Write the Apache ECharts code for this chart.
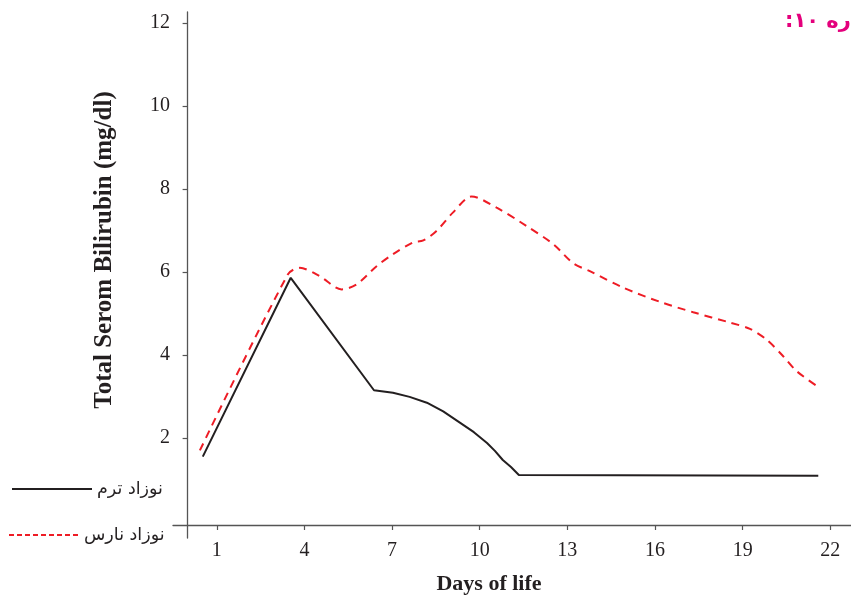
<!DOCTYPE html>
<html>
<head>
<meta charset="utf-8">
<script src="https://cdn.jsdelivr.net/npm/echarts@6/dist/echarts.min.js"></script>
<style>html,body{margin:0;padding:0;background:#fff}#c{width:851px;height:595px}</style>
</head>
<body>
<div id="c"></div>
<script>
// ---- data ----
const seriesNames = ['نوزاد ترم', 'نوزاد نارس'];
const termDays =   [0.52, 3.53, 6.38, 7.03, 7.6, 8.19, 8.75, 9.32, 9.8, 10.25, 10.52, 10.79, 11.07, 11.34, 21.59];
const termValues = [1.55, 5.86, 3.15, 3.09, 2.99, 2.85, 2.64, 2.37, 2.14, 1.88, 1.69, 1.47, 1.30, 1.11, 1.09];
const pretermDays =   [0.42, 3.43, 3.84, 4.52, 5.27, 5.78, 6.47, 7.03, 7.71, 8.07, 8.52, 9.08, 9.72, 10.58, 11.6, 12.52, 13.2, 13.77, 14.92, 16.17, 17.31, 18.57, 19.25, 19.82, 20.39, 20.85, 21.65];
const pretermValues = [1.70, 5.94, 6.10, 5.90, 5.58, 5.70, 6.14, 6.43, 6.71, 6.76, 6.99, 7.43, 7.82, 7.55, 7.11, 6.67, 6.21, 6.02, 5.62, 5.28, 5.03, 4.78, 4.63, 4.37, 3.97, 3.61, 3.20];
const xTicks = [1, 4, 7, 10, 13, 16, 19, 22];
const yTicks = [2, 4, 6, 8, 10, 12];
const xTitle = 'Days of life';
const yTitle = 'Total Serom Bilirubin (mg/dl)';
const titleText = 'شماره ۱۰:';

const pairs = (xs, ys) => xs.map((x, i) => [x, ys[i]]);
const axisColor = '#555';
const textColor = '#231f20';
const serif = 'Liberation Serif';

const chart = echarts.init(document.getElementById('c'), null, {renderer: 'canvas'});
chart.setOption({
  animation: false,
  backgroundColor: '#fff',
  title: {
    text: titleText + '\u200F',
    left: 780, top: 6,
    textStyle: {color: '#e4007c', fontSize: 21, fontWeight: 'bold', fontFamily: 'DejaVu Sans'}
  },
  legend: [
    {data: [seriesNames[0]], left: 11, top: 480, padding: 0, itemWidth: 80, itemHeight: 14,
     itemStyle: {opacity: 0},
     textStyle: {fontSize: 17.5, color: textColor, fontFamily: 'DejaVu Sans'}},
    {data: [seriesNames[1]], left: 8, top: 526, padding: 0, itemWidth: 70, itemHeight: 14,
     itemStyle: {opacity: 0}, lineStyle: {type: [5, 3]},
     textStyle: {fontSize: 17.5, color: textColor, fontFamily: 'DejaVu Sans'}}
  ],
  grid: {left: 173, right: 0, top: 12, bottom: 57, containLabel: false, outerBoundsMode: 'none'},
  xAxis: {
    type: 'value', min: -0.5, max: 22.71,
    name: xTitle, nameLocation: 'middle', nameGap: 35,
    nameTextStyle: {fontFamily: serif, fontSize: 22, fontWeight: 'bold', color: textColor, padding: [0, 46, 0, 0]},
    axisLine: {show: true, onZero: true, onZeroAxisIndex: 1, lineStyle: {color: axisColor, width: 1.3}},
    axisTick: {show: true, inside: false, length: 5, customValues: xTicks, lineStyle: {color: axisColor, width: 1.2}},
    axisLabel: {customValues: xTicks, margin: 3, fontFamily: serif, fontSize: 20, color: textColor},
    splitLine: {show: false}
  },
  yAxis: [
    {
      type: 'value', min: -0.41, max: 12.265,
      name: yTitle, nameLocation: 'middle', nameGap: 56, nameRotate: 90,
      nameTextStyle: {fontFamily: serif, fontSize: 25, fontWeight: 'bold', color: textColor, padding: [0, 0, 0, 50]},
      axisLine: {show: true, onZero: true, lineStyle: {color: axisColor, width: 1.3}},
      axisTick: {show: true, inside: false, length: 5, customValues: yTicks, lineStyle: {color: axisColor, width: 1.2}},
      axisLabel: {customValues: yTicks, margin: 3, fontFamily: serif, fontSize: 20, color: textColor},
      splitLine: {show: false}
    },
    {
      type: 'value', show: false, min: -0.3136, max: 12.3614,
      axisLine: {show: false}, splitLine: {show: false}
    }
  ],
  series: [
    {
      name: seriesNames[0], type: 'line', symbol: 'none', smooth: false,
      data: pairs(termDays, termValues),
      lineStyle: {color: '#231f20', width: 2},
      itemStyle: {color: '#231f20'}
    },
    {
      name: seriesNames[1], type: 'line', symbol: 'none', smooth: 0.3,
      data: pairs(pretermDays, pretermValues),
      lineStyle: {color: '#ee1c25', width: 2, type: [8, 6]},
      itemStyle: {color: '#ee1c25'}
    }
  ]
});
</script>
</body>
</html>
